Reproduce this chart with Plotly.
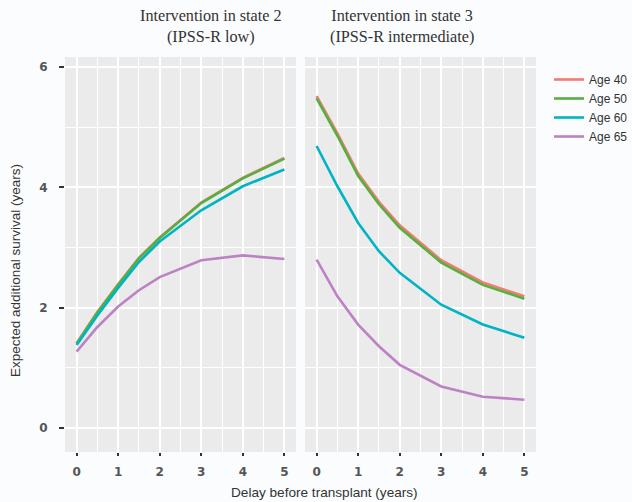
import plotly.graph_objects as go

W, H = 632, 502

delay = [0, 0.5, 1, 1.5, 2, 3, 4, 5]
ages = ["Age 40", "Age 50", "Age 60", "Age 65"]
colors = ["#f47a72", "#55b040", "#00b4c4", "#bd82c4"]

# Intervention in state 2 (IPSS-R low)
state2_age40 = [1.41, 1.93, 2.39, 2.83, 3.17, 3.75, 4.16, 4.49]
state2_age50 = [1.40, 1.92, 2.38, 2.82, 3.16, 3.74, 4.15, 4.48]
state2_age60 = [1.38, 1.87, 2.33, 2.76, 3.10, 3.62, 4.02, 4.30]
state2_age65 = [1.27, 1.68, 2.02, 2.29, 2.51, 2.79, 2.87, 2.81]

# Intervention in state 3 (IPSS-R intermediate)
state3_age40 = [5.52, 4.90, 4.23, 3.76, 3.37, 2.79, 2.42, 2.19]
state3_age50 = [5.48, 4.86, 4.19, 3.72, 3.33, 2.75, 2.38, 2.15]
state3_age60 = [4.69, 4.02, 3.41, 2.94, 2.58, 2.05, 1.72, 1.50]
state3_age65 = [2.80, 2.19, 1.72, 1.36, 1.05, 0.69, 0.52, 0.47]

state2 = [state2_age40, state2_age50, state2_age60, state2_age65]
state3 = [state3_age40, state3_age50, state3_age60, state3_age65]

x_ticks = [0, 1, 2, 3, 4, 5]
y_ticks = [0, 2, 4, 6]

title_left = "Intervention in state 2<br>(IPSS-R low)"
title_right = "Intervention in state 3<br>(IPSS-R intermediate)"
x_title = "Delay before transplant (years)"
y_title = "Expected additional survival (years)"

fig = go.Figure()
for i, name in enumerate(ages):
    fig.add_trace(go.Scatter(x=delay, y=state2[i], mode="lines", name=name,
                             line=dict(color=colors[i], width=2.6),
                             legendgroup=name, showlegend=True,
                             xaxis="x", yaxis="y"))
for i, name in enumerate(ages):
    fig.add_trace(go.Scatter(x=delay, y=state3[i], mode="lines", name=name,
                             line=dict(color=colors[i], width=2.6),
                             legendgroup=name, showlegend=False,
                             xaxis="x2", yaxis="y2"))

def px(v):
    return v / W

def py(v):
    return 1 - v / H

tickfont = dict(family="DejaVu Sans", size=12, color="#555555", weight="bold")
common_x = dict(range=[-0.28, 5.28], tickvals=x_ticks, showgrid=True,
                gridcolor="white", gridwidth=1.6, zeroline=False, automargin=False,
                ticks="outside", ticklen=3, tickwidth=2, tickcolor="#333333",
                tickfont=tickfont, ticklabelstandoff=6, showline=False,
                minor=dict(dtick=0.5, tick0=0, showgrid=True, gridcolor="white",
                           gridwidth=0.8, ticks=""))
common_y = dict(range=[-0.4, 6.17], tickvals=y_ticks, showgrid=True,
                gridcolor="white", gridwidth=1.6, zeroline=False,
                showline=False, automargin=False,
                minor=dict(dtick=1, tick0=0, showgrid=True, gridcolor="white",
                           gridwidth=0.8, ticks=""))

fig.update_layout(
    width=W, height=H,
    margin=dict(l=0, r=0, t=0, b=0, autoexpand=False),
    paper_bgcolor="#fbfcfd",
    plot_bgcolor="#ebebeb",
    xaxis=dict(domain=[px(65), px(296)], anchor="y", **common_x),
    xaxis2=dict(domain=[px(305), px(536)], anchor="y2", **common_x),
    yaxis=dict(domain=[py(452), py(57)], anchor="x", ticks="outside",
               ticklen=5, tickwidth=1.5, tickcolor="#333333",
               tickfont=tickfont, ticklabelstandoff=9, **common_y),
    yaxis2=dict(domain=[py(452), py(57)], anchor="x2", showticklabels=False,
                ticks="", **common_y),
    legend=dict(x=px(549), y=py(65), xanchor="left", yanchor="top",
                xref="container", yref="container", borderwidth=0,
                bgcolor="rgba(0,0,0,0)", font=dict(family="Liberation Sans", size=12, color="#333333"),
                tracegroupgap=0, itemwidth=30),
    showlegend=True,
)

title_font = dict(family="Liberation Serif", size=16.2, color="#333333")
fig.add_annotation(text=title_left, x=px(210.5), y=py(26.5), xref="paper", yref="paper",
                   showarrow=False, font=title_font, xanchor="center", yanchor="middle")
fig.add_annotation(text=title_right, x=px(402.5), y=py(26.5), xref="paper", yref="paper",
                   showarrow=False, font=title_font, xanchor="center", yanchor="middle")
fig.add_annotation(text=x_title, x=px(324.5), y=py(492), xref="paper", yref="paper",
                   showarrow=False, xanchor="center", yanchor="middle",
                   font=dict(family="Liberation Sans", size=13.6, color="#333333"))
fig.add_annotation(text=y_title, x=px(15), y=py(271), xref="paper", yref="paper",
                   showarrow=False, xanchor="center", yanchor="middle", textangle=-90,
                   font=dict(family="Liberation Sans", size=13.5, color="#333333"))

fig.write_html("out.html")
